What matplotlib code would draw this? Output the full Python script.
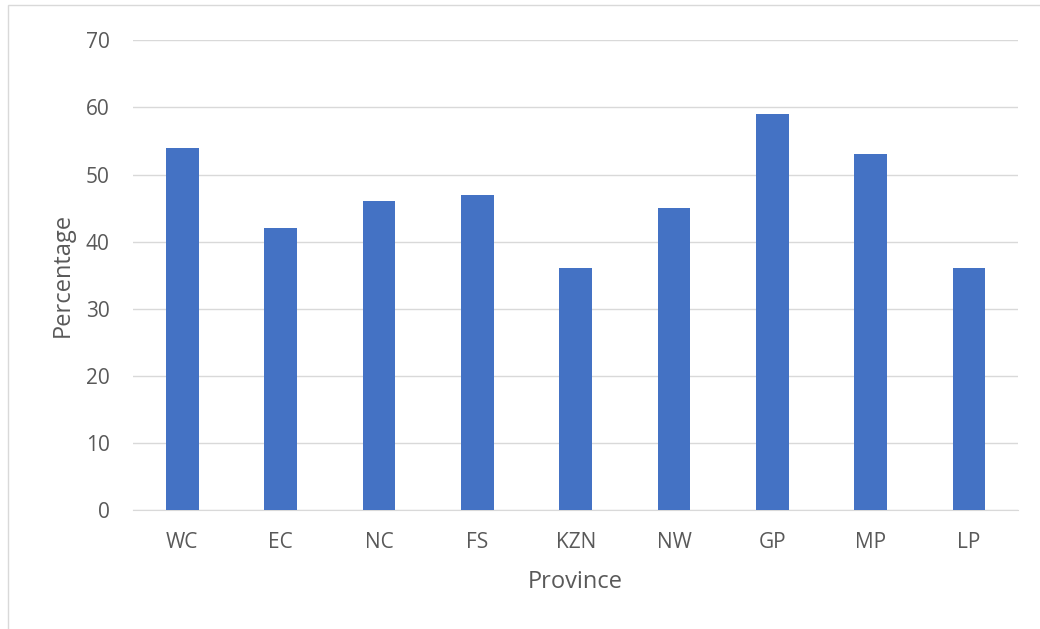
import matplotlib
matplotlib.use("Agg")
import matplotlib.pyplot as plt
from matplotlib.patches import Rectangle

provinces = ["WC", "EC", "NC", "FS", "KZN", "NW", "GP", "MP", "LP"]
percentages = [54, 42, 46, 47, 36, 45, 59, 53, 36]
yticks = [0, 10, 20, 30, 40, 50, 60, 70]

plt.rcParams['font.family'] = ['Open Sans', 'DejaVu Sans']

fig = plt.figure(figsize=(10.4, 6.29), dpi=100)
ax = fig.add_axes([0.128, 0.189, 0.851, 0.747])

fig.patches.append(Rectangle((8/1040, -0.1), 1.2, 1 - 5/629 + 0.1, transform=fig.transFigure,
                             fill=False, edgecolor='#d9d9d9', linewidth=1.0))

x = list(range(len(provinces)))
ax.bar(x, percentages, width=0.33, color='#4472C4', zorder=3)
ax.set_xlim(-0.5, len(provinces) - 0.5)
ax.set_ylim(0, 70)
ax.set_yticks(yticks)
ax.set_xticks(x)
ax.set_xticklabels(provinces)
ax.yaxis.grid(True, color='#d9d9d9', linewidth=1.0, zorder=0)
for s in ['top', 'right', 'left']:
    ax.spines[s].set_visible(False)
ax.spines['bottom'].set_color('#d9d9d9')
ax.tick_params(axis='both', length=0, labelsize=15, colors='#595959')
ax.tick_params(axis='x', pad=16)
ax.tick_params(axis='y', pad=17)
ax.set_xlabel("Province", fontsize=17, color='#595959', labelpad=12)
ax.set_ylabel("Percentage", fontsize=17, color='#595959', labelpad=8)

fig.savefig("out.png", dpi=100)
